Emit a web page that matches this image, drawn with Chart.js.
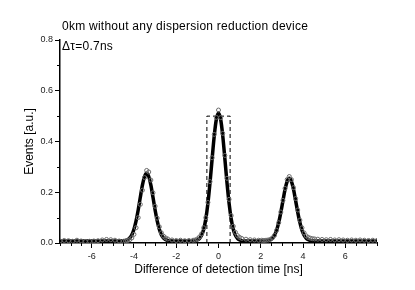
<!DOCTYPE html>
<html>
<head>
<meta charset="utf-8">
<script src="https://cdn.jsdelivr.net/npm/chart.js@4.4.1/dist/chart.umd.min.js"></script>
<style>
  html, body { margin: 0; padding: 0; background: #fff; }
  #wrap { position: relative; width: 415px; height: 290px; }
</style>
</head>
<body>
<div id="wrap"><canvas id="c" width="415" height="290"></canvas></div>
<script>
// detection time difference [ns]
const timeNs = [
  -7.5, -7.3, -7.1, -6.9, -6.7, -6.5, -6.3, -6.1, -5.9, -5.7, -5.5, -5.3, -5.1, -4.9, -4.7, -4.5,
  -4.4, -4.3, -4.2, -4.1, -4.0, -3.9, -3.8, -3.7, -3.6, -3.5, -3.4, -3.3, -3.2, -3.1, -3.0, -2.9, -2.8, -2.7, -2.6, -2.5, -2.4,
  -2.2, -2.0, -1.8, -1.6, -1.4, -1.2,
  -1.1, -1.0, -0.9, -0.8, -0.7, -0.6, -0.5, -0.4, -0.3, -0.2, -0.1, 0.0, 0.1, 0.2, 0.3, 0.4, 0.5, 0.6, 0.7, 0.8, 0.9, 1.0, 1.1,
  1.3, 1.5, 1.7, 1.9, 2.05,
  2.15, 2.25, 2.35, 2.45, 2.55, 2.65, 2.75, 2.85, 2.95, 3.05, 3.15, 3.25, 3.35, 3.45, 3.55, 3.65, 3.75, 3.85, 3.95, 4.05, 4.15, 4.25, 4.35, 4.45, 4.55,
  4.7, 4.9, 5.1, 5.3, 5.5, 5.7, 5.9, 6.1, 6.3, 6.5, 6.7, 6.9, 7.1, 7.3, 7.5
];
// measured events (open markers)
const measured = [
  0.008, 0.010, 0.009, 0.007, 0.011, 0.008, 0.006, 0.007, 0.008, 0.009, 0.012, 0.014, 0.013, 0.011, 0.008, 0.007,
  0.008, 0.010, 0.013, 0.020, 0.034, 0.060, 0.100, 0.152, 0.208, 0.258, 0.286, 0.280, 0.248, 0.198, 0.145, 0.098, 0.064, 0.040, 0.027, 0.020, 0.016,
  0.012, 0.010, 0.011, 0.009, 0.010, 0.011,
  0.012, 0.016, 0.024, 0.036, 0.060, 0.100, 0.160, 0.242, 0.336, 0.428, 0.495, 0.524, 0.494, 0.432, 0.345, 0.255, 0.172, 0.108, 0.066, 0.042, 0.029, 0.022, 0.018,
  0.015, 0.013, 0.012, 0.011, 0.011,
  0.010, 0.011, 0.012, 0.014, 0.020, 0.030, 0.050, 0.080, 0.122, 0.168, 0.215, 0.250, 0.262, 0.250, 0.218, 0.175, 0.130, 0.090, 0.060, 0.040, 0.028, 0.022, 0.019, 0.017, 0.016,
  0.015, 0.014, 0.013, 0.014, 0.012, 0.013, 0.012, 0.011, 0.012, 0.011, 0.012, 0.011, 0.010, 0.011, 0.010
];
// fitted curve (thick line)
const fitted = [
  0.008, 0.008, 0.008, 0.008, 0.008, 0.008, 0.008, 0.008, 0.008, 0.008, 0.008, 0.008, 0.008, 0.008, 0.008, 0.0085,
  0.010, 0.0131, 0.0197, 0.032, 0.054, 0.087, 0.130, 0.180, 0.228, 0.262, 0.275, 0.262, 0.228, 0.180, 0.130, 0.087, 0.054, 0.032, 0.0197, 0.0131, 0.010,
  0.008, 0.008, 0.008, 0.008, 0.008, 0.008,
  0.0094, 0.0118, 0.0177, 0.030, 0.054, 0.095, 0.157, 0.239, 0.333, 0.423, 0.488, 0.512, 0.488, 0.423, 0.333, 0.239, 0.157, 0.095, 0.054, 0.030, 0.0177, 0.0118, 0.0094,
  0.008, 0.008, 0.008, 0.008, 0.008,
  0.008, 0.0087, 0.0099, 0.0127, 0.0188, 0.0306, 0.050, 0.081, 0.121, 0.167, 0.211, 0.243, 0.255, 0.243, 0.211, 0.167, 0.121, 0.081, 0.050, 0.0306, 0.0188, 0.0127, 0.0099, 0.0087, 0.008,
  0.008, 0.008, 0.008, 0.008, 0.008, 0.008, 0.008, 0.008, 0.008, 0.008, 0.008, 0.008, 0.008, 0.008, 0.008
];
// coincidence window (dashed box)
const gateX = [-0.55, -0.55, 0.55, 0.55];
const gateY = [0, 0.5, 0.5, 0];

const xMajorTicks = [-6, -4, -2, 0, 2, 4, 6];
const xMinorTicks = [-7.5, -7, -6.5, -5.5, -5, -4.5, -3.5, -3, -2.5, -1.5, -1, -0.5, 0.5, 1, 1.5, 2.5, 3, 3.5, 4.5, 5, 5.5, 6.5, 7, 7.5];
const yMajorTicks = [0, 0.2, 0.4, 0.6, 0.8];
const yMinorTicks = [0.1, 0.3, 0.5, 0.7];

const titleText = '0km without any dispersion reduction device';
const noteText = '\u0394\u03c4=0.7ns';

const FONT = '"Liberation Sans", Arial, sans-serif';
const pts = (xs, ys) => xs.map((x, i) => ({ x: x, y: ys[i] }));

// minor tick marks + title text
const extras = {
    id: 'extras',
    afterDraw(chart) {
        const c = chart.ctx;
        const xs = chart.scales.x, ys = chart.scales.y;
        const area = chart.chartArea;
        c.save();
        c.strokeStyle = '#000';
        c.lineWidth = 1;
        c.beginPath();
        xMinorTicks.forEach(v => {
            const px = Math.round(xs.getPixelForValue(v)) + 0.5;
            c.moveTo(px, area.bottom);
            c.lineTo(px, area.bottom + 3);
        });
        yMinorTicks.forEach(v => {
            const py = Math.round(ys.getPixelForValue(v)) + 0.5;
            c.moveTo(area.left, py);
            c.lineTo(area.left - 3, py);
        });
        c.stroke();

        c.fillStyle = '#000';
        c.textBaseline = 'middle';
        c.font = '12px ' + FONT;
        c.letterSpacing = '0.25px';
        c.fillText(titleText, area.left + 2, 27);
        c.fillText(noteText, area.left + 2, 47);
        c.restore();
    }
};

const ctx = document.getElementById('c');
new Chart(ctx, {
    type: 'scatter',
    data: {
        datasets: [
            {
                label: 'measured',
                data: pts(timeNs, measured),
                showLine: false,
                pointStyle: 'circle',
                pointRadius: 2,
                pointBorderWidth: 1,
                pointBorderColor: '#6a6a6a',
                pointBackgroundColor: 'rgba(255,255,255,0)'
            },
            {
                label: 'fit',
                data: pts(timeNs, fitted),
                showLine: true,
                borderColor: '#000',
                borderWidth: 3.5,
                pointRadius: 0,
                tension: 0.3
            },
            {
                label: 'window',
                data: pts(gateX, gateY),
                showLine: true,
                borderColor: '#000',
                borderWidth: 1,
                borderDash: [4, 3],
                pointRadius: 0
            }
        ]
    },
    options: {
        responsive: false,
        animation: false,
        layout: { padding: { left: 0, right: 38, top: 40, bottom: 0 } },
        plugins: {
            legend: { display: false },
            tooltip: { enabled: false }
        },
        scales: {
            x: {
                type: 'linear',
                min: -7.5,
                max: 7.5,
                afterBuildTicks: s => { s.ticks = xMajorTicks.map(v => ({ value: v })); },
                afterFit: s => { s.height = 47; },
                border: { color: '#000', width: 1.5 },
                grid: { drawOnChartArea: false, drawTicks: true, tickLength: 5, color: '#000' },
                ticks: {
                    color: '#222',
                    font: { size: 9, family: FONT },
                    padding: 3,
                    maxRotation: 0,
                    callback: v => String(v)
                },
                title: {
                    display: true,
                    text: 'Difference of detection time [ns]',
                    color: '#000',
                    font: { size: 12, family: FONT },
                    padding: { top: 0, bottom: 13 }
                }
            },
            y: {
                min: 0,
                max: 0.8,
                afterBuildTicks: s => { s.ticks = yMajorTicks.map(v => ({ value: v })); },
                afterFit: s => { s.width = 60; },
                border: { color: '#000', width: 1.5 },
                grid: { drawOnChartArea: false, drawTicks: true, tickLength: 5, color: '#000' },
                ticks: {
                    color: '#222',
                    font: { size: 9, family: FONT },
                    padding: 2,
                    callback: v => v.toFixed(1)
                },
                title: {
                    display: true,
                    text: 'Events [a.u.]',
                    color: '#000',
                    font: { size: 12, family: FONT },
                    padding: { top: 22, bottom: 0 }
                }
            }
        }
    },
    plugins: [extras]
});
</script>
</body>
</html>
